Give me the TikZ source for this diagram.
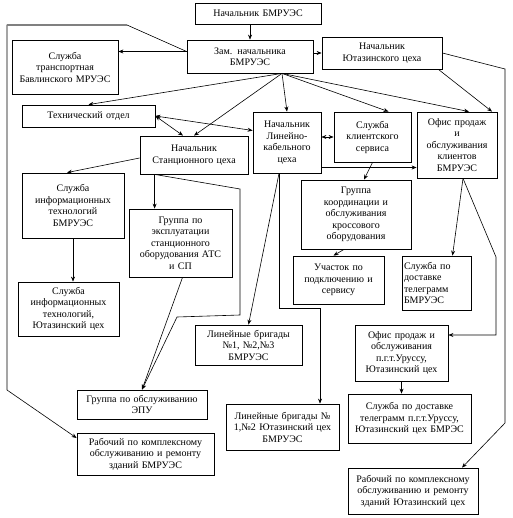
\documentclass[tikz,border=0pt]{standalone}
\usepackage{fontspec}
\setmainfont{Liberation Serif}
\usepackage{tikz}
\usetikzlibrary{arrows.meta}
\tikzset{
  arr/.style={-{Stealth[length=5pt,width=4pt]}, line width=0.6pt},
  darr/.style={{Stealth[length=5pt,width=4pt]}-{Stealth[length=5pt,width=4pt]}, line width=0.6pt},
  bbox/.style={draw, line width=0.8pt, text centered, font={\fontsize{10}{11.5}\selectfont},
               inner sep=2pt},
}

\begin{document}
\begin{tikzpicture}[x=1pt, y=-1pt,
                    arr/.style={-{Stealth[length=5pt,width=4pt]}, line width=0.6pt}]
\useasboundingbox (0,0) rectangle (512,518);

\node[bbox, text width=122pt, minimum height=21pt] (chief)  at (258,13.5)  {Начальник БМРУЭС};
\node[bbox, text width=122pt, minimum height=33pt] (zam)    at (250,56.5)  {Зам. начальника\\БМРУЭС};
\node[bbox, text width=116pt, minimum height=32pt] (yut)    at (382,53)    {Начальник\\Ютазинского цеха};
\node[bbox, text width=102pt, minimum height=54pt] (trans)  at (65,67)     {Служба\\транспортная\\Бавлинского МРУЭС};
\node[bbox, text width=129pt, minimum height=22pt] (tech)   at (88.5,116)  {Технический отдел};
\node[bbox, text width=104pt, minimum height=38pt] (stan)   at (194,155)   {Начальник\\Станционного цеха};
\node[bbox, text width=64pt,  minimum height=61pt] (lin)    at (287,142.5) {Начальник\\Линейно-\\кабельного\\цеха};
\node[bbox, text width=73pt,  minimum height=50pt] (client) at (372.5,137) {Служба\\клиентского\\сервиса};
\node[bbox, text width=76pt,  minimum height=66pt] (office) at (457,145)   {Офис продаж\\и\\обслуживания\\клиентов\\БМРУЭС};
\node[bbox, text width=98pt,  minimum height=65pt] (it)     at (73,205.5)  {Служба\\информационных\\технологий\\БМРУЭС};
\node[bbox, text width=97pt,  minimum height=54pt] (itY)    at (68.5,309)  {Служба\\информационных\\технологий,\\Ютазинский цех};
\node[bbox, text width=99pt,  minimum height=68pt] (grAts)  at (180.5,243) {Группа по\\эксплуатации\\станционного\\оборудования АТС\\и СП};
\node[bbox, text width=106pt, minimum height=69pt] (koord)  at (356,214.5) {Группа\\координации и\\обслуживания\\кроссового\\оборудования};
\node[bbox, text width=87pt,  minimum height=48pt] (uch)    at (338.5,280) {Участок по\\подключению и\\сервису};
\node[bbox, text width=65pt,  minimum height=54pt, text ragged] (tele) at (436.5,283) {Служба по\\доставке\\телеграмм\\БМРУЭС};
\node[bbox, text width=103pt, minimum height=40pt] (linBr)  at (248.5,345) {Линейные бригады\\№1, №2,№3\\БМРУЭС};
\node[bbox, text width=126pt, minimum height=29pt] (epu)    at (142,404.5) {Группа по обслуживанию\\ЭПУ};
\node[bbox, text width=109pt, minimum height=46pt] (linBrY) at (282.5,427) {Линейные бригады №\\1,№2 Ютазинский цех\\БМРУЭС};
\node[bbox, text width=133pt, minimum height=42pt] (rab)    at (145.5,454) {Рабочий по комплексному\\обслуживанию и ремонту\\зданий БМРУЭС};
\node[bbox, text width=89pt,  minimum height=56pt] (officeU) at (401.5,353) {Офис продаж и\\обслуживания\\п.г.т.Уруссу,\\Ютазинский цех};
\node[bbox, text width=119pt, minimum height=49pt] (teleU)  at (409.5,418.5) {Служба по доставке\\телеграмм п.г.т.Уруссу,\\Ютазинский цех БМРЭС};
\node[bbox, text width=126pt, minimum height=46pt] (rabY)   at (413,491)   {Рабочий по комплексному\\обслуживанию и ремонту\\зданий Ютазинский цех};

% bends
\coordinate (zamfan)   at ([xshift=32pt]zam.south);
\coordinate (stanfoot) at ([xshift=15pt]stan.south west);
\coordinate (linfoot)  at ([xshift=-8pt]lin.south);
\coordinate (tl1) at (127,25);
\coordinate (tl2) at (7,25);
\coordinate (tl3) at (7,390);
\coordinate (yr1) at (505,69);
\coordinate (yr2) at (505,423);
\coordinate (or1) at (496,257);
\coordinate (or2) at (496,335);
\coordinate (sa)  at (240,189);
\coordinate (sb)  at (240,315);
\coordinate (sc)  at (177,317);
\coordinate (lb1) at (279,308);
\coordinate (lb2) at (320,308);

\draw[arr] (zam.north |- chief.south) -- (zam.north);
\draw[arr] (zam.east |- yut.west) -- (yut.west);
\draw[arr] ([yshift=5pt]zam.west) -- ([yshift=5pt]zam.west -| trans.east);
\draw[arr] ([yshift=5pt]zam.west) -- (tl1) -- (tl2) -- (tl3) -- ([yshift=16pt]rab.west);
\draw[gray, line width=1.6pt] (tl1) -- (tl2);

\draw[arr] (zamfan) -- (tech.north);
\draw[arr] (zamfan) -- (stan.north);
\draw[arr] (zamfan) -- (lin.north);
\draw[arr] (zamfan) -- ([xshift=16pt]client.north);
\draw[arr] (zamfan) -- ([xshift=12pt]office.north);

\draw[arr] ([xshift=-4pt]yut.south east) -- ([xshift=35pt]office.north);
\draw[arr] (yut.east) -- (yr1) -- (yr2) -- ([xshift=49pt]rabY.north);

\draw[darr] (tech.east) -- ([xshift=-11pt]stan.north);
\draw[darr] (tech.east) -- ([yshift=12pt]lin.west);
\draw[darr] (lin.east |- client.west) -- (client.west);
\draw[arr] ([yshift=-25pt]lin.east) -- ([yshift=-25pt]lin.east -| office.west);

\draw[arr] (client.south) -- ([xshift=8pt]koord.north);
\draw[arr] ([xshift=-12pt]koord.south) -- ([xshift=-5pt]uch.north);
\draw[arr] ([xshift=6pt]office.south) -- ([xshift=16pt]tele.north);
\draw[arr] ([xshift=6pt]office.south) -- (or1) -- (or2) -- (or2 -| officeU.east);
\draw[arr] (officeU.south) -- (officeU.south |- teleU.north);

\draw[arr] ([yshift=-3pt]stan.west) -- ([xshift=-6pt]it.north);
\draw[arr] (it.south) -- (it.south |- itY.north);
\draw[arr] (stanfoot) -- (stanfoot |- grAts.north);
\draw[arr] (stanfoot) -- (sa) -- (sb) -- (sc) -- (epu.north);
\draw[arr] ([xshift=2pt]grAts.south) -- (epu.north);

\draw[arr] (linfoot) -- (linBr.north);
\draw[arr] (linfoot) -- (lb1) -- (lb2) -- (lb2 |- linBrY.north);
\end{tikzpicture}
\end{document}
